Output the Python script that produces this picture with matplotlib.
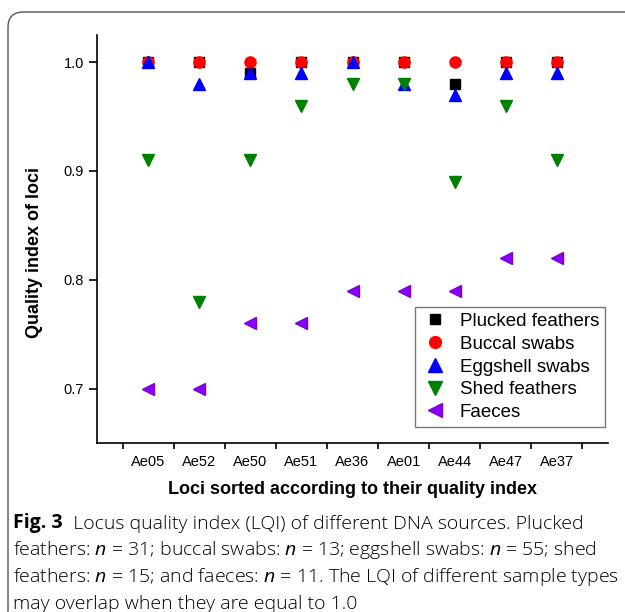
import numpy as np
import matplotlib.pyplot as plt
from matplotlib.patches import FancyBboxPatch

plt.rcParams['font.family'] = ['Liberation Sans', 'DejaVu Sans']
plt.rcParams['mathtext.fontset'] = 'custom'
plt.rcParams['mathtext.rm'] = 'Open Sans'
plt.rcParams['mathtext.it'] = 'Open Sans:italic'

# loci on the x axis
loci = ['Ae05', 'Ae52', 'Ae50', 'Ae51', 'Ae36', 'Ae01', 'Ae44', 'Ae47', 'Ae37']

# quality index per DNA source
plucked = [1.00, 1.00, 0.99, 1.00, 1.00, 1.00, 0.98, 1.00, 1.00]
buccal = [1.00, 1.00, 1.00, 1.00, 1.00, 1.00, 1.00, 1.00, 1.00]
eggshell = [1.00, 0.98, 0.99, 0.99, 1.00, 0.98, 0.97, 0.99, 0.99]
shed = [0.91, 0.78, 0.91, 0.96, 0.98, 0.98, 0.89, 0.96, 0.91]
faeces = [0.70, 0.70, 0.76, 0.76, 0.79, 0.79, 0.79, 0.82, 0.82]

yticks = [0.7, 0.8, 0.9, 1.0]

fig = plt.figure(figsize=(6.25, 6.12), dpi=100)

# rounded frame of the journal figure, cut by the right and bottom edges
frame = FancyBboxPatch((8 / 625, -0.05), 1.2, 1 - 12 / 612 + 0.05,
                       boxstyle='round,pad=0,rounding_size=0.025',
                       transform=fig.transFigure, facecolor='none',
                       edgecolor='#555555', linewidth=1.0, clip_on=False)
fig.patches.append(frame)

ax = fig.add_axes([97 / 625, 1 - 443 / 612, 511 / 625, 408 / 612])
x = np.arange(1, len(loci) + 1)

ax.plot(x, plucked, 's', color='black', ms=7, label='Plucked feathers')
ax.plot(x, buccal, 'o', color='red', ms=8, label='Buccal swabs')
ax.plot(x, eggshell, '^', color='blue', ms=8.5, label='Eggshell swabs')
ax.plot(x, shed, 'v', color='green', ms=8.5, label='Shed feathers')
ax.plot(x, faeces, '<', color='#8800ff', mec='#7a00d0', ms=8.5, label='Faeces')

ax.set_xlim(0, 10)
ax.set_ylim(0.65, 1.025)
ax.set_xticks(x)
ax.set_xticklabels(loci)
ax.set_xticks(np.arange(0.5, 10, 1.0), minor=True)
ax.tick_params(axis='x', which='major', length=0, labelsize=10.5, pad=9)
ax.tick_params(axis='x', which='minor', length=4.5, width=1.2, direction='out')
ax.set_yticks(yticks)
ax.set_yticklabels(['%.1f' % v for v in yticks])
ax.tick_params(axis='y', length=5.5, width=1.2, labelsize=10.5, pad=4)

for s in ['top', 'right']:
    ax.spines[s].set_visible(False)
for s in ['left', 'bottom']:
    ax.spines[s].set_linewidth(1.2)

ax.set_xlabel('Loci sorted according to their quality index',
              fontsize=13, fontweight='bold', labelpad=8)
ax.set_ylabel('Quality index of loci', fontsize=13, fontweight='bold')
ax.yaxis.set_label_coords(-0.106, 0.466)

leg = ax.legend(loc='lower right', bbox_to_anchor=(0.9935, 0.04), fontsize=13.5,
                frameon=True, fancybox=False, edgecolor='#555555',
                handletextpad=0.5, borderpad=0.3, labelspacing=0.3,
                handlelength=1.6, borderaxespad=0)
leg.get_frame().set_linewidth(1.0)
for h, ms in zip(leg.legend_handles, [6.5, 8.5, 10, 10, 10]):
    h.set_markersize(ms)

# caption
cap_font = 'Open Sans'
t1 = fig.text(13 / 625, 1 - 528 / 612, 'Fig. 3', fontsize=14,
              fontweight='bold', family=cap_font, va='baseline')
ax.annotate('  Locus quality index (LQI) of different DNA sources. Plucked',
            xy=(1, 0), xycoords=t1, xytext=(0, 0), textcoords='offset points',
            fontsize=14, family=cap_font, fontweight='light', va='bottom',
            annotation_clip=False)
caption = [
    r'feathers: $n$ = 31; buccal swabs: $n$ = 13; eggshell swabs: $n$ = 55; shed',
    r'feathers: $n$ = 15; and faeces: $n$ = 11. The LQI of different sample types',
    'may overlap when they are equal to 1.0',
]
for i, line in enumerate(caption):
    fig.text(13 / 625, 1 - (555 + 27 * i) / 612, line, fontsize=14,
             family=cap_font, fontweight='light', va='baseline')

fig.savefig('out.png', dpi=100)
